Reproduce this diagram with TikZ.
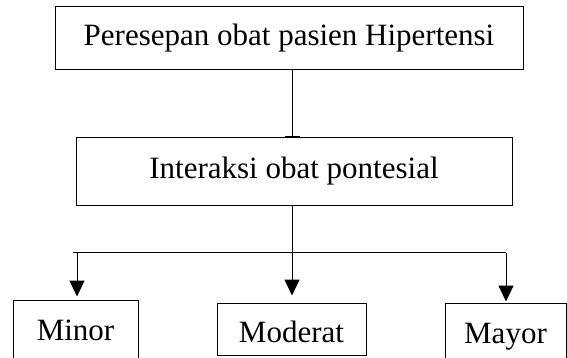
\documentclass[tikz,border=0pt]{standalone}
\usepackage{fontspec}
\setmainfont{Liberation Serif}
\usetikzlibrary{positioning, arrows.meta}

\begin{document}
\begin{tikzpicture}[x=1pt, y=-1pt, line width=1pt,
    box/.style={draw, inner sep=0pt, text height=21pt, text depth=7pt, font=\fontsize{31}{36}\selectfont},
    >={Triangle[width=15pt, length=16pt]}]
    \useasboundingbox (0,0) rectangle (567,358);

    \node[box, minimum width=468pt, minimum height=63pt] (resep) at (289,38.5) {Peresepan obat pasien Hipertensi};
    \node[box, minimum width=436pt, minimum height=67pt, below=67pt of resep, xshift=5pt] (interaksi) {Interaksi obat pontesial};

    \node[box, minimum width=125pt, minimum height=62pt, text height=23pt, text depth=5pt] (minor) at (75.5,331) {Minor};
    \node[box, minimum width=149pt, minimum height=52pt, text height=29pt, text depth=3pt] (moderat) at (291.5,329) {Moderat};
    \node[box, minimum width=121pt, minimum height=58pt, text height=25pt, text depth=3pt] (mayor) at (505.5,332) {Mayor};

    \coordinate (kiri) at (73,252.5);
    \coordinate (cabang) at (292,252.5);
    \coordinate (kanan) at (506,252.5);
    \coordinate (ke-minor) at (77,252.5);

    \draw[-{Bar[width=15pt]}] (resep.south -| cabang) -- (interaksi.north -| cabang);
    \draw (interaksi.south -| cabang) -- (cabang);
    \draw (kiri) -- (kanan);

    \draw[->, shorten >=3pt] (ke-minor) -- (ke-minor |- minor.north);
    \draw[->, shorten >=7pt] (cabang) -- (cabang |- moderat.north);
    \draw[->, shorten >=1pt] (kanan) -- (kanan |- mayor.north);
\end{tikzpicture}
\end{document}
